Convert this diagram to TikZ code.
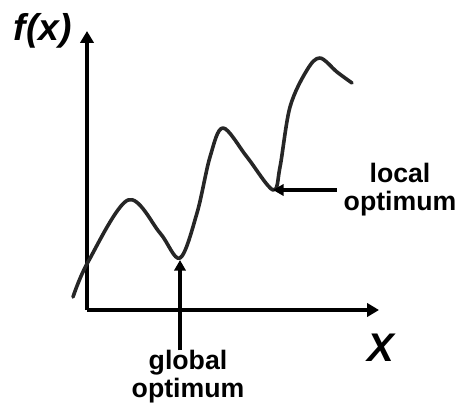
\documentclass[tikz,border=0pt]{standalone}
\usepackage{fontspec}
\setmainfont{Liberation Sans}
\usetikzlibrary{arrows.meta, calc, positioning}

\tikzset{
  axis/.style={line width=3.4pt, -{Triangle[width=10pt, length=9pt]}},
  pointer/.style={line width=2.5pt, -{Triangle[width=8.5pt, length=8pt]}},
  curve/.style={line width=2.7pt, black!85, line cap=round, line join=round},
  lbl/.style={font=\bfseries\fontsize{20}{21}\selectfont, align=center, inner sep=0pt}
}

\begin{document}
\begin{tikzpicture}[x=0.75pt, y=-0.75pt, >=Latex]
  \useasboundingbox (0,0) rectangle (456,406);

  % Axes
  \coordinate (O) at (87,310);
  \coordinate (ytip) at (87,31);
  \coordinate (xtip) at (379,310);
  \draw[axis] (O) -- (ytip);
  \draw[axis] (O) -- (xtip);

  \node[font=\bfseries\itshape\fontsize{28}{30}\selectfont, inner sep=0pt]
    (fx) at (43,31) {f(x)};
  \node[font=\bfseries\itshape\fontsize{30}{30}\selectfont, inner sep=0pt]
    (xl) at (381,348) {X};

  % The function
  \draw[curve] plot[smooth, tension=0.55] coordinates {
    (73,297) (88,262) (128,200) (160,233) (180,258) (197,213) (210,157)
    (223,128) (247,157) (273,190) (280,167) (290,107) (307,70)
    (320,58) (337,72) (352,83)};

  % Optima
  \coordinate (gmin) at (180,260);
  \coordinate (lmin) at (273,190);

  \node[lbl] (glob) at (188,377) {global\\optimum};
  \node[lbl] (loc) at (400,190) {local\\optimum};

  \draw[pointer] (glob.north -| gmin) -- (gmin);
  \draw[pointer] ([xshift=-5pt]loc.west) -- (lmin);
\end{tikzpicture}
\end{document}
